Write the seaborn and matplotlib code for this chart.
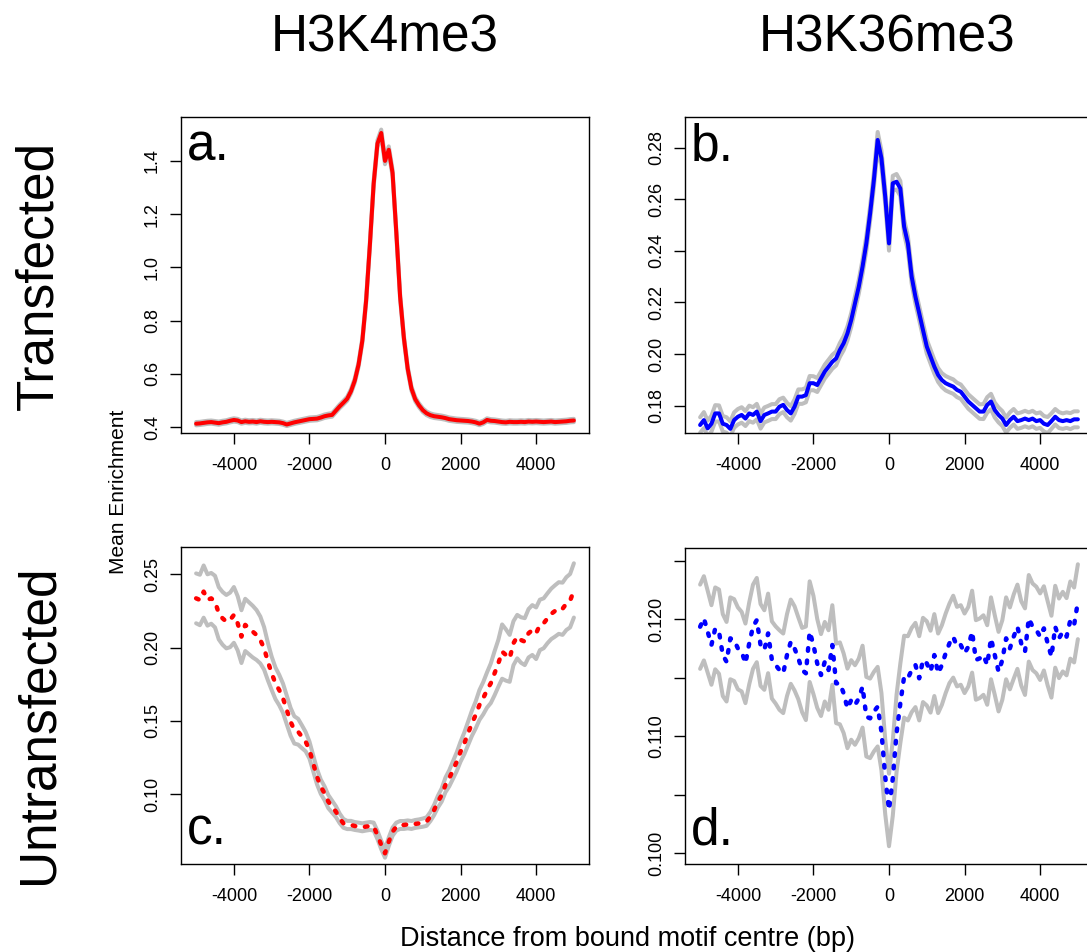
import numpy as np
import pandas as pd
import matplotlib
matplotlib.use("Agg")
import matplotlib.pyplot as plt
import seaborn as sns

# ---------------- data ----------------
positions = np.arange(-5000, 5001, 100)   # distance from motif centre (bp)

col_titles = ["H3K4me3", "H3K36me3"]
row_titles = ["Transfected", "Untransfected"]
x_ticks = [-4000, -2000, 0, 2000, 4000]
x_tick_labels = ["-4000", "-2000", "0", "2000", "4000"]

# a. H3K4me3, transfected
h3k4_trans_mean = [
    0.413, 0.414, 0.416, 0.418, 0.419, 0.417, 0.415, 0.418, 0.420, 0.424,
    0.427, 0.425, 0.419, 0.422, 0.420, 0.421, 0.419, 0.422, 0.420, 0.419,
    0.420, 0.419, 0.418, 0.415, 0.410, 0.414, 0.418, 0.421, 0.424, 0.427,
    0.430, 0.431, 0.432, 0.436, 0.441, 0.444, 0.446, 0.462, 0.478, 0.492,
    0.507, 0.535, 0.575, 0.635, 0.725, 0.875, 1.085, 1.315, 1.465, 1.505,
    1.400, 1.442, 1.355, 1.130, 0.890, 0.735, 0.620, 0.545, 0.505, 0.482,
    0.464, 0.452, 0.445, 0.441, 0.439, 0.437, 0.434, 0.430, 0.428, 0.426,
    0.425, 0.424, 0.423, 0.421, 0.418, 0.413, 0.418, 0.427, 0.424, 0.423,
    0.421, 0.419, 0.418, 0.420, 0.419, 0.419, 0.420, 0.419, 0.421, 0.420,
    0.421, 0.420, 0.419, 0.420, 0.421, 0.419, 0.420, 0.421, 0.422, 0.424, 0.425]
h3k4_trans_ci = [
    0.0062, 0.0060, 0.0061, 0.0060, 0.0059, 0.0060, 0.0061, 0.0060, 0.0060, 0.0062,
    0.0063, 0.0061, 0.0060, 0.0060, 0.0059, 0.0060, 0.0060, 0.0059, 0.0060, 0.0060,
    0.0059, 0.0060, 0.0060, 0.0059, 0.0060, 0.0060, 0.0061, 0.0061, 0.0062, 0.0062,
    0.0063, 0.0063, 0.0064, 0.0064, 0.0065, 0.0066, 0.0067, 0.0068, 0.0070, 0.0072,
    0.0075, 0.0078, 0.0082, 0.0088, 0.0095, 0.0104, 0.0112, 0.0120, 0.0125, 0.0128,
    0.0126, 0.0126, 0.0122, 0.0114, 0.0104, 0.0094, 0.0086, 0.0080, 0.0076, 0.0073,
    0.0071, 0.0069, 0.0068, 0.0067, 0.0066, 0.0065, 0.0064, 0.0064, 0.0063, 0.0063,
    0.0062, 0.0062, 0.0061, 0.0061, 0.0060, 0.0060, 0.0061, 0.0062, 0.0061, 0.0060,
    0.0060, 0.0060, 0.0059, 0.0060, 0.0060, 0.0059, 0.0060, 0.0060, 0.0061, 0.0060,
    0.0060, 0.0060, 0.0059, 0.0060, 0.0060, 0.0061, 0.0060, 0.0060, 0.0061, 0.0061, 0.0062]

# b. H3K36me3, transfected
h3k36_trans_mean = [
    0.1725, 0.1744, 0.1712, 0.1730, 0.1770, 0.1770, 0.1730, 0.1725, 0.1710, 0.1744,
    0.1757, 0.1764, 0.1750, 0.1770, 0.1764, 0.1777, 0.1740, 0.1764, 0.1770, 0.1777,
    0.1777, 0.1796, 0.1803, 0.1783, 0.1770, 0.1796, 0.1835, 0.1835, 0.1841, 0.1887,
    0.1887, 0.1880, 0.1906, 0.1932, 0.1951, 0.1970, 0.1983, 0.2016, 0.2042, 0.2080,
    0.2132, 0.2197, 0.2261, 0.2339, 0.2429, 0.2545, 0.2675, 0.2830, 0.2759, 0.2610,
    0.2429, 0.2662, 0.2668, 0.2642, 0.2494, 0.2429, 0.2300, 0.2222, 0.2158, 0.2093,
    0.2029, 0.1990, 0.1951, 0.1919, 0.1899, 0.1887, 0.1880, 0.1874, 0.1861, 0.1854,
    0.1835, 0.1816, 0.1803, 0.1790, 0.1777, 0.1777, 0.1803, 0.1816, 0.1783, 0.1764,
    0.1750, 0.1725, 0.1744, 0.1757, 0.1740, 0.1744, 0.1750, 0.1744, 0.1750, 0.1740,
    0.1744, 0.1730, 0.1725, 0.1740, 0.1757, 0.1744, 0.1740, 0.1744, 0.1740, 0.1747, 0.1747]
h3k36_trans_ci = [
    0.0030, 0.0031, 0.0030, 0.0031, 0.0032, 0.0031, 0.0030, 0.0030, 0.0029, 0.0030,
    0.0030, 0.0030, 0.0029, 0.0030, 0.0030, 0.0030, 0.0029, 0.0029, 0.0029, 0.0029,
    0.0029, 0.0029, 0.0028, 0.0028, 0.0028, 0.0028, 0.0028, 0.0028, 0.0028, 0.0028,
    0.0027, 0.0027, 0.0027, 0.0027, 0.0027, 0.0027, 0.0027, 0.0027, 0.0027, 0.0027,
    0.0027, 0.0027, 0.0027, 0.0027, 0.0028, 0.0028, 0.0029, 0.0031, 0.0030, 0.0029,
    0.0028, 0.0029, 0.0030, 0.0029, 0.0028, 0.0028, 0.0027, 0.0027, 0.0027, 0.0027,
    0.0027, 0.0027, 0.0027, 0.0027, 0.0027, 0.0028, 0.0028, 0.0028, 0.0028, 0.0028,
    0.0028, 0.0028, 0.0028, 0.0028, 0.0028, 0.0029, 0.0030, 0.0030, 0.0029, 0.0029,
    0.0029, 0.0029, 0.0030, 0.0030, 0.0030, 0.0030, 0.0030, 0.0030, 0.0030, 0.0030,
    0.0030, 0.0030, 0.0031, 0.0030, 0.0030, 0.0031, 0.0030, 0.0030, 0.0031, 0.0031, 0.0031]

# c. H3K4me3, untransfected
h3k4_untr_mean = [
    0.2336, 0.2325, 0.2382, 0.2325, 0.2336, 0.2314, 0.2234, 0.2200, 0.2177, 0.2189,
    0.2223, 0.2166, 0.2075, 0.2155, 0.2132, 0.2109, 0.2086, 0.2052, 0.1995, 0.1905,
    0.1825, 0.1757, 0.1711, 0.1655, 0.1575, 0.1495, 0.1439, 0.1427, 0.1393, 0.1359,
    0.1302, 0.1211, 0.1120, 0.1052, 0.1007, 0.0950, 0.0916, 0.0882, 0.0836, 0.0802,
    0.0791, 0.0791, 0.0784, 0.0780, 0.0775, 0.0780, 0.0784, 0.0780, 0.0723, 0.0655,
    0.0598, 0.0677, 0.0745, 0.0780, 0.0791, 0.0791, 0.0795, 0.0791, 0.0798, 0.0802,
    0.0807, 0.0814, 0.0848, 0.0893, 0.0950, 0.0995, 0.1064, 0.1109, 0.1166, 0.1223,
    0.1291, 0.1348, 0.1416, 0.1484, 0.1541, 0.1609, 0.1655, 0.1711, 0.1757, 0.1825,
    0.1893, 0.1973, 0.1950, 0.1927, 0.2030, 0.2075, 0.2052, 0.2041, 0.2098, 0.2120,
    0.2098, 0.2155, 0.2166, 0.2200, 0.2230, 0.2250, 0.2270, 0.2265, 0.2300, 0.2320, 0.2390]
h3k4_untr_ci = [
    0.0170, 0.0172, 0.0178, 0.0175, 0.0173, 0.0176, 0.0178, 0.0180, 0.0182, 0.0186,
    0.0190, 0.0185, 0.0180, 0.0178, 0.0177, 0.0176, 0.0170, 0.0160, 0.0145, 0.0128,
    0.0114, 0.0108, 0.0104, 0.0100, 0.0098, 0.0095, 0.0093, 0.0088, 0.0078, 0.0066,
    0.0058, 0.0054, 0.0052, 0.0049, 0.0047, 0.0045, 0.0041, 0.0037, 0.0033, 0.0030,
    0.0028, 0.0028, 0.0027, 0.0027, 0.0027, 0.0027, 0.0027, 0.0027, 0.0028, 0.0029,
    0.0030, 0.0029, 0.0028, 0.0027, 0.0027, 0.0027, 0.0027, 0.0027, 0.0027, 0.0027,
    0.0028, 0.0029, 0.0031, 0.0035, 0.0040, 0.0045, 0.0050, 0.0055, 0.0060, 0.0064,
    0.0068, 0.0074, 0.0080, 0.0086, 0.0092, 0.0102, 0.0110, 0.0120, 0.0135, 0.0150,
    0.0160, 0.0185, 0.0175, 0.0160, 0.0150, 0.0148, 0.0155, 0.0160, 0.0165, 0.0170,
    0.0176, 0.0172, 0.0170, 0.0170, 0.0172, 0.0175, 0.0176, 0.0178, 0.0180, 0.0182, 0.0185]

# d. H3K36me3, untransfected
h3k36_untr_mean = [
    0.11934, 0.12006, 0.11892, 0.11778, 0.11920, 0.11892, 0.11692, 0.11635, 0.11835, 0.11820,
    0.11749, 0.11721, 0.11621, 0.11792, 0.11934, 0.11991, 0.11778, 0.11735, 0.11877, 0.11650,
    0.11607, 0.11564, 0.11536, 0.11692, 0.11806, 0.11749, 0.11664, 0.11564, 0.11536, 0.11892,
    0.11778, 0.11621, 0.11521, 0.11635, 0.11564, 0.11778, 0.11450, 0.11450, 0.11365, 0.11236,
    0.11308, 0.11265, 0.11322, 0.11422, 0.11165, 0.11151, 0.11208, 0.11251, 0.11037, 0.10652,
    0.10368, 0.10638, 0.11023, 0.11279, 0.11507, 0.11493, 0.11564, 0.11607, 0.11493, 0.11650,
    0.11621, 0.11550, 0.11692, 0.11536, 0.11607, 0.11707, 0.11792, 0.11849, 0.11764, 0.11778,
    0.11707, 0.11764, 0.11892, 0.11650, 0.11664, 0.11692, 0.11607, 0.11835, 0.11692, 0.11550,
    0.11650, 0.11835, 0.11749, 0.11849, 0.11934, 0.11792, 0.11721, 0.12006, 0.11934, 0.11906,
    0.11849, 0.11920, 0.11792, 0.11678, 0.11934, 0.11835, 0.11892, 0.11849, 0.11991, 0.11949, 0.12148]
h3k36_untr_ci = [
    0.0036, 0.0036, 0.0035, 0.0034, 0.0035, 0.0036, 0.0035, 0.0034, 0.0035, 0.0035,
    0.0035, 0.0034, 0.0034, 0.0035, 0.0036, 0.0036, 0.0035, 0.0034, 0.0034, 0.0033,
    0.0033, 0.0034, 0.0034, 0.0035, 0.0036, 0.0036, 0.0035, 0.0036, 0.0040, 0.0043,
    0.0042, 0.0038, 0.0035, 0.0034, 0.0034, 0.0034, 0.0034, 0.0035, 0.0034, 0.0034,
    0.0034, 0.0034, 0.0034, 0.0035, 0.0034, 0.0034, 0.0034, 0.0034, 0.0033, 0.0032,
    0.0031, 0.0032, 0.0033, 0.0034, 0.0035, 0.0036, 0.0036, 0.0036, 0.0036, 0.0036,
    0.0036, 0.0035, 0.0035, 0.0034, 0.0034, 0.0034, 0.0034, 0.0035, 0.0034, 0.0034,
    0.0034, 0.0034, 0.0035, 0.0034, 0.0034, 0.0034, 0.0034, 0.0035, 0.0034, 0.0034,
    0.0034, 0.0035, 0.0035, 0.0036, 0.0036, 0.0036, 0.0037, 0.0037, 0.0037, 0.0037,
    0.0037, 0.0036, 0.0036, 0.0035, 0.0035, 0.0034, 0.0034, 0.0033, 0.0033, 0.0032, 0.0032]

panels = [
    dict(label="a.", mean=h3k4_trans_mean, ci=h3k4_trans_ci, color="#FF0000", dotted=False,
         ylim=(0.378, 1.565), yticks=[0.4, 0.6, 0.8, 1.0, 1.2, 1.4],
         ylabels=["0.4", "0.6", "0.8", "1.0", "1.2", "1.4"], label_top=True),
    dict(label="b.", mean=h3k36_trans_mean, ci=h3k36_trans_ci, color="#0000FF", dotted=False,
         ylim=(0.1694, 0.2919), yticks=[0.18, 0.20, 0.22, 0.24, 0.26, 0.28],
         ylabels=["0.18", "0.20", "0.22", "0.24", "0.26", "0.28"], label_top=True),
    dict(label="c.", mean=h3k4_untr_mean, ci=h3k4_untr_ci, color="#FF0000", dotted=True,
         ylim=(0.0525, 0.2686), yticks=[0.10, 0.15, 0.20, 0.25],
         ylabels=["0.10", "0.15", "0.20", "0.25"], label_top=False),
    dict(label="d.", mean=h3k36_untr_mean, ci=h3k36_untr_ci, color="#0000FF", dotted=True,
         ylim=(0.09906, 0.12607), yticks=[0.100, 0.105, 0.110, 0.115, 0.120, 0.125],
         ylabels=["0.100", "", "0.110", "", "0.120", ""], label_top=False),
]

# ---------------- style ----------------
sns.set_theme(style="ticks")
plt.rcParams["font.family"] = ["Liberation Sans", "DejaVu Sans"]
plt.rcParams["text.color"] = "black"
plt.rcParams["axes.labelcolor"] = "black"
plt.rcParams["xtick.color"] = "black"
plt.rcParams["ytick.color"] = "black"

W, H = 1087, 952
fig = plt.figure(figsize=(W / 100, H / 100), dpi=100)

def add_ax(left, top, right, bottom):
    return fig.add_axes([left / W, 1 - bottom / H, (right - left) / W, (bottom - top) / H])

axes = [add_ax(181, 117, 589, 433), add_ax(685, 117, 1093, 433),
        add_ax(181, 547, 589, 864), add_ax(685, 548, 1093, 864)]

GREY = "#BEBEBE"
for ax, p in zip(axes, panels):
    m = np.asarray(p["mean"])
    c = np.asarray(p["ci"])
    df = pd.DataFrame({"pos": positions, "mean": m, "upper": m + c, "lower": m - c})
    for col in ("upper", "lower"):
        sns.lineplot(data=df, x="pos", y=col, ax=ax, color=GREY, linewidth=2.9,
                     solid_capstyle="round", solid_joinstyle="round")
    if p["dotted"]:
        sns.lineplot(data=df, x="pos", y="mean", ax=ax, color=p["color"], linewidth=3.2,
                     linestyle=(0, (0.6, 2.2)), dash_capstyle="round")
    else:
        sns.lineplot(data=df, x="pos", y="mean", ax=ax, color=p["color"], linewidth=2.9,
                     solid_capstyle="round", solid_joinstyle="round")
    ax.set_xlim(-5400, 5400)
    ax.set_ylim(*p["ylim"])
    ax.set_xticks(x_ticks)
    ax.set_xticklabels(x_tick_labels, color="black")
    ax.set_yticks(p["yticks"])
    ax.set_yticklabels(p["ylabels"], rotation=90, va="center", color="black")
    ax.set_xlabel("")
    ax.set_ylabel("")
    for s in ax.spines.values():
        s.set_visible(True)
        s.set_linewidth(1.0)
        s.set_color("black")
    ax.tick_params(axis="both", direction="out", length=8, width=1.0, color="black",
                   labelcolor="black", labelsize=13)
    ax.tick_params(axis="x", pad=9)
    ax.tick_params(axis="y", pad=6.5)
    ax.set_facecolor("white")
    if p["label_top"]:
        ax.text(0.014, 0.861, p["label"], transform=ax.transAxes, fontsize=37,
                ha="left", va="baseline", color="black")
    else:
        ax.text(0.014, 0.063, p["label"], transform=ax.transAxes, fontsize=37,
                ha="left", va="baseline", color="black")

fig.text(385 / W, 1 - 52 / H, col_titles[0], ha="center", va="baseline", fontsize=37, color="black")
fig.text(887 / W, 1 - 52 / H, col_titles[1], ha="center", va="baseline", fontsize=37, color="black")
fig.text(39 / W, 1 - 275 / H, row_titles[0], rotation=90, ha="center", va="center",
         fontsize=37, color="black")
fig.text(39 / W, 1 - 724 / H, row_titles[1], rotation=90, ha="center", va="center",
         fontsize=37, color="black")
fig.text(118 / W, 1 - 492 / H, "Mean Enrichment", rotation=90, ha="center", va="center",
         fontsize=15, color="black")
fig.text(628 / W, 1 - 946 / H, "Distance from bound motif centre (bp)", ha="center",
         va="baseline", fontsize=19.5, color="black")

fig.savefig("out.png", dpi=100, facecolor="white")
